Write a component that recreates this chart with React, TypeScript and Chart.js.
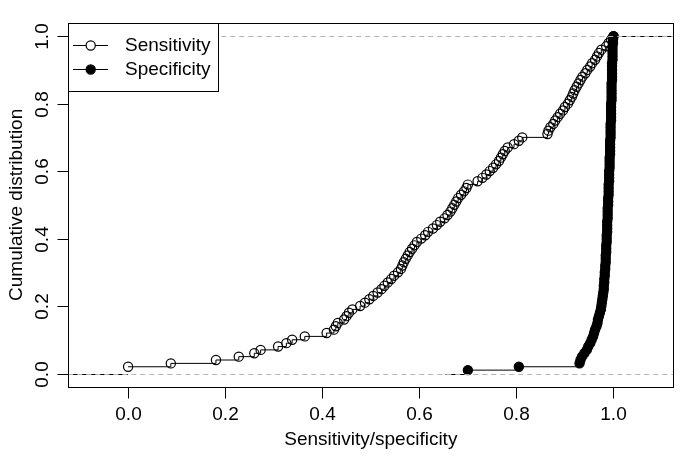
import React, { useEffect, useRef } from "react";
import { Chart, registerables } from "chart.js";

Chart.register(...registerables);

// Sensitivity ECDF points (x value, cumulative proportion)
const sensX = [
  0.000, 0.088, 0.181, 0.228, 0.260, 0.273, 0.309, 0.326, 0.338, 0.364,
  0.409, 0.424, 0.428, 0.432, 0.445, 0.450, 0.455, 0.462, 0.478, 0.488,
  0.497, 0.505, 0.514, 0.522, 0.528, 0.535, 0.542, 0.548, 0.556, 0.562,
  0.565, 0.568, 0.572, 0.576, 0.580, 0.585, 0.590, 0.595, 0.604, 0.612,
  0.618, 0.628, 0.636, 0.643, 0.652, 0.658, 0.664, 0.668, 0.672, 0.676,
  0.680, 0.686, 0.692, 0.697, 0.700, 0.720, 0.730, 0.738, 0.745, 0.752,
  0.758, 0.764, 0.768, 0.772, 0.776, 0.782, 0.795, 0.805, 0.812, 0.864,
  0.866, 0.870, 0.876, 0.880, 0.885, 0.890, 0.896, 0.900, 0.906, 0.910,
  0.914, 0.917, 0.920, 0.924, 0.928, 0.932, 0.936, 0.942, 0.946, 0.952,
  0.956, 0.962, 0.966, 0.970, 0.975, 0.985, 0.990, 0.995, 1.000,
];
const sensY = [
  0.02, 0.03, 0.04, 0.05, 0.06, 0.07, 0.08, 0.09, 0.10, 0.11,
  0.12, 0.13, 0.14, 0.15, 0.16, 0.17, 0.18, 0.19, 0.20, 0.21,
  0.22, 0.23, 0.24, 0.25, 0.26, 0.27, 0.28, 0.29, 0.30, 0.31,
  0.32, 0.33, 0.34, 0.35, 0.36, 0.37, 0.38, 0.39, 0.40, 0.41,
  0.42, 0.43, 0.44, 0.45, 0.46, 0.47, 0.48, 0.49, 0.50, 0.51,
  0.52, 0.53, 0.54, 0.55, 0.56, 0.57, 0.58, 0.59, 0.60, 0.61,
  0.62, 0.63, 0.64, 0.65, 0.66, 0.67, 0.68, 0.69, 0.70, 0.71,
  0.72, 0.73, 0.74, 0.75, 0.76, 0.77, 0.78, 0.79, 0.80, 0.81,
  0.82, 0.83, 0.84, 0.85, 0.86, 0.87, 0.88, 0.89, 0.90, 0.91,
  0.92, 0.93, 0.94, 0.95, 0.96, 0.97, 0.98, 0.99, 1.00,
];

// Specificity ECDF points
const specX = [
  0.700, 0.805, 0.930, 0.932, 0.935, 0.940, 0.945, 0.948, 0.952, 0.955,
  0.958, 0.960, 0.962, 0.965, 0.967, 0.968, 0.970, 0.972, 0.974, 0.975,
  0.976, 0.977, 0.978, 0.979, 0.980, 0.980, 0.981, 0.981, 0.982, 0.982,
  0.983, 0.983, 0.984, 0.984, 0.984, 0.985, 0.985, 0.985, 0.986, 0.986,
  0.986, 0.987, 0.987, 0.987, 0.987, 0.988, 0.988, 0.988, 0.988, 0.989,
  0.989, 0.989, 0.990, 0.990, 0.990, 0.990, 0.991, 0.991, 0.991, 0.991,
  0.992, 0.992, 0.992, 0.992, 0.993, 0.993, 0.993, 0.993, 0.993, 0.994,
  0.994, 0.994, 0.994, 0.994, 0.995, 0.995, 0.995, 0.995, 0.995, 0.995,
  0.996, 0.996, 0.996, 0.996, 0.996, 0.996, 0.997, 0.997, 0.997, 0.997,
  0.997, 0.997, 0.998, 0.998, 0.998, 0.998, 0.998, 0.999, 0.999, 1.000,
];
const specY = [
  0.01, 0.02, 0.03, 0.04, 0.05, 0.06, 0.07, 0.08, 0.09, 0.10,
  0.11, 0.12, 0.13, 0.14, 0.15, 0.16, 0.17, 0.18, 0.19, 0.20,
  0.21, 0.22, 0.23, 0.24, 0.25, 0.26, 0.27, 0.28, 0.29, 0.30,
  0.31, 0.32, 0.33, 0.34, 0.35, 0.36, 0.37, 0.38, 0.39, 0.40,
  0.41, 0.42, 0.43, 0.44, 0.45, 0.46, 0.47, 0.48, 0.49, 0.50,
  0.51, 0.52, 0.53, 0.54, 0.55, 0.56, 0.57, 0.58, 0.59, 0.60,
  0.61, 0.62, 0.63, 0.64, 0.65, 0.66, 0.67, 0.68, 0.69, 0.70,
  0.71, 0.72, 0.73, 0.74, 0.75, 0.76, 0.77, 0.78, 0.79, 0.80,
  0.81, 0.82, 0.83, 0.84, 0.85, 0.86, 0.87, 0.88, 0.89, 0.90,
  0.91, 0.92, 0.93, 0.94, 0.95, 0.96, 0.97, 0.98, 0.99, 1.00,
];

const seriesNames = ["Sensitivity", "Specificity"];
const xTickValues = [0, 0.2, 0.4, 0.6, 0.8, 1.0];
const xTickLabels = ["0.0", "0.2", "0.4", "0.6", "0.8", "1.0"];
const yTickValues = [0, 0.2, 0.4, 0.6, 0.8, 1.0];
const yTickLabels = ["0.0", "0.2", "0.4", "0.6", "0.8", "1.0"];
const xTitle = "Sensitivity/specificity";
const yTitle = "Cumulative distribution";

const X_MIN = -0.1232;
const X_MAX = 1.1232;
const Y_MIN = -0.04;
const Y_MAX = 1.04;
const SPEC_LEFT_START = 0.654;

const FONT = '19px "Liberation Sans", Arial, Helvetica, sans-serif';
const R_POINT = 4.6;
const PT_LW = 1.2;

const rBasePlugin = {
  id: "rBase",
  beforeDatasetsDraw(chart: any) {
    const ctx = chart.ctx;
    const xs = chart.scales.x;
    const ys = chart.scales.y;
    const ca = chart.chartArea;
    ctx.save();
    ctx.strokeStyle = "#000";
    ctx.lineWidth = 1;
    ctx.setLineDash([]);
    const seg = (x0: number, x1: number, y: number) => {
      const py = Math.round(ys.getPixelForValue(y)) + 0.5;
      ctx.beginPath();
      ctx.moveTo(x0, py);
      ctx.lineTo(x1, py);
      ctx.stroke();
    };
    seg(ca.left, xs.getPixelForValue(sensX[0]), 0);
    seg(xs.getPixelForValue(sensX[sensX.length - 1]), ca.right, 1);
    seg(xs.getPixelForValue(SPEC_LEFT_START), xs.getPixelForValue(specX[0]), 0);
    seg(xs.getPixelForValue(specX[specX.length - 1]), ca.right, 1);
    ctx.restore();
  },
  afterDatasetsDraw(chart: any) {
    const ctx = chart.ctx;
    const xs = chart.scales.x;
    const ys = chart.scales.y;
    const ca = chart.chartArea;
    ctx.save();

    // dashed 0/1 reference lines
    ctx.strokeStyle = "#b3b3b3";
    ctx.lineWidth = 1;
    ctx.setLineDash([5, 4]);
    [0, 1].forEach((v) => {
      const py = Math.round(ys.getPixelForValue(v)) + 0.5;
      ctx.beginPath();
      ctx.moveTo(ca.left, py);
      ctx.lineTo(ca.right, py);
      ctx.stroke();
    });
    ctx.setLineDash([]);

    // box
    ctx.strokeStyle = "#000";
    ctx.lineWidth = 1;
    const L = Math.round(ca.left) + 0.5;
    const R = Math.round(ca.right) + 0.5;
    const T = Math.round(ca.top) + 0.5;
    const B = Math.round(ca.bottom) + 0.5;
    ctx.strokeRect(L, T, R - L, B - T);

    // x ticks
    ctx.fillStyle = "#000";
    ctx.font = FONT;
    ctx.textAlign = "center";
    ctx.textBaseline = "middle";
    xTickValues.forEach((v, i) => {
      const px = Math.round(xs.getPixelForValue(v)) + 0.5;
      ctx.beginPath();
      ctx.moveTo(px, B);
      ctx.lineTo(px, B + 11);
      ctx.stroke();
      ctx.fillText(xTickLabels[i], px, 415);
    });
    // y ticks
    yTickValues.forEach((v, i) => {
      const py = Math.round(ys.getPixelForValue(v)) + 0.5;
      ctx.beginPath();
      ctx.moveTo(L - 11, py);
      ctx.lineTo(L, py);
      ctx.stroke();
      ctx.save();
      ctx.translate(43, py);
      ctx.rotate(-Math.PI / 2);
      ctx.fillText(yTickLabels[i], 0, 0);
      ctx.restore();
    });
    // titles
    ctx.fillText(xTitle, (ca.left + ca.right) / 2, 440);
    ctx.save();
    ctx.translate(17, (ca.top + ca.bottom) / 2);
    ctx.rotate(-Math.PI / 2);
    ctx.fillText(yTitle, 0, 0);
    ctx.restore();

    // legend
    const lx = L;
    const ly = T;
    ctx.fillStyle = "#fff";
    ctx.fillRect(lx, ly, 150, 68);
    ctx.strokeRect(lx, ly, 150, 68);
    const rows = [45, 69];
    rows.forEach((ry, i) => {
      ctx.lineWidth = 1;
      ctx.beginPath();
      ctx.moveTo(73, ry + 0.5);
      ctx.lineTo(108, ry + 0.5);
      ctx.stroke();
      ctx.lineWidth = PT_LW;
      ctx.beginPath();
      ctx.arc(90.7, ry + 0.5, R_POINT, 0, Math.PI * 2);
      ctx.fillStyle = i === 0 ? "#fff" : "#000";
      ctx.fill();
      ctx.stroke();
      ctx.fillStyle = "#000";
      ctx.textAlign = "left";
      ctx.fillText(seriesNames[i], 125, ry + 1);
    });

    ctx.restore();
  },
};

export default function App() {
  const ref = useRef<HTMLCanvasElement | null>(null);
  useEffect(() => {
    if (!ref.current) return;
    const chart = new Chart(ref.current, {
      type: "scatter",
      data: {
        datasets: [
          {
            label: seriesNames[0],
            data: sensX.map((x, i) => ({ x, y: sensY[i] })),
            showLine: true,
            stepped: "before",
            borderColor: "#000",
            borderWidth: 1,
            pointRadius: R_POINT,
            pointBorderWidth: PT_LW,
            pointBorderColor: "#000",
            pointBackgroundColor: "rgba(0,0,0,0)",
            clip: false,
          } as any,
          {
            label: seriesNames[1],
            data: specX.map((x, i) => ({ x, y: specY[i] })),
            showLine: true,
            stepped: "before",
            borderColor: "#000",
            borderWidth: 1,
            pointRadius: R_POINT,
            pointBorderWidth: PT_LW,
            pointBorderColor: "#000",
            pointBackgroundColor: "#000",
            clip: false,
          } as any,
        ],
      },
      options: {
        responsive: false,
        animation: false,
        events: [],
        layout: { padding: { left: 68.3, right: 11.7, top: 22.7, bottom: 69 } },
        scales: {
          x: { type: "linear", min: X_MIN, max: X_MAX, display: false },
          y: { type: "linear", min: Y_MIN, max: Y_MAX, display: false },
        },
        plugins: { legend: { display: false }, tooltip: { enabled: false } },
      },
      plugins: [rBasePlugin],
    });
    return () => chart.destroy();
  }, []);
  return (
    <div style={{ position: "fixed", left: 0, top: 0, width: 685, height: 456, background: "#fff" }}>
      <canvas ref={ref} width={685} height={456} style={{ display: "block", width: 685, height: 456 }} />
    </div>
  );
}
